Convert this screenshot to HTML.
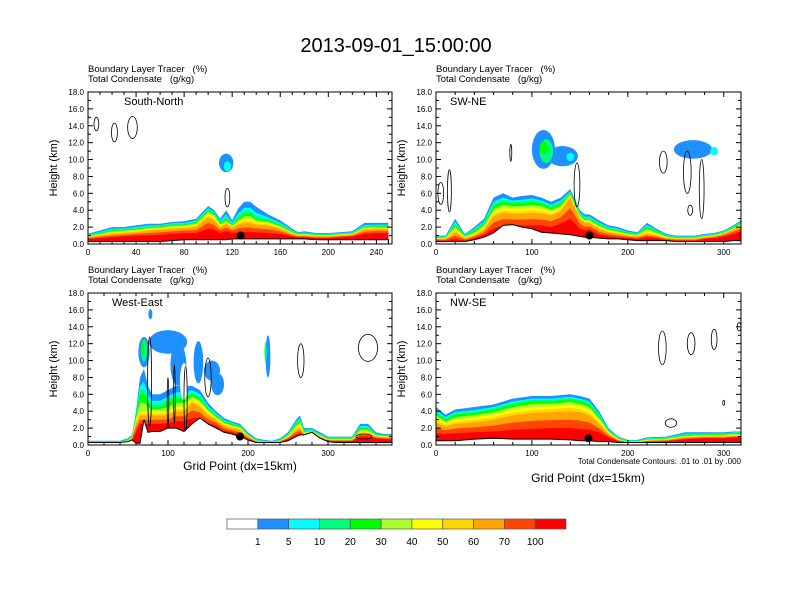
<!DOCTYPE html>
<html><head><meta charset="utf-8"><style>
html,body{margin:0;padding:0;background:#fff;}
svg{display:block;font-family:"Liberation Sans",sans-serif;}
</style></head><body>
<svg id="chart" width="792" height="612" viewBox="0 0 792 612" xmlns="http://www.w3.org/2000/svg">
<text x="396" y="52" text-anchor="middle" font-size="20">2013-09-01_15:00:00</text>
</svg>
<script>
// ---- data ----
const levelColors=["#ffffff","#1e90ff","#00ffff","#00ff7f","#00ff00","#adff2f","#ffff00","#ffd700","#ffa500","#ff4500","#ff0000"];
const levelLabels=["1","5","10","20","30","40","50","60","70","100"];
const yTicks=[0,2,4,6,8,10,12,14,16,18];

const snX=[0,10,20,30,40,50,60,70,80,90,100,105,110,115,120,125,130,135,140,150,160,170,175,180,190,200,210,220,230,240,250];
const snGround=[.3,.3,.3,.3,.3,.3,.3,.4,.5,.5,.5,.5,.5,.5,.6,.6,.6,.6,.6,.6,.6,.6,.6,.6,.5,.5,.5,.5,.5,.5,.5];
const snBlue=[1.2,1.6,2.0,2.0,2.2,2.4,2.4,2.6,2.7,3.0,4.5,4.0,3.0,4.0,2.8,4.2,5.0,5.0,4.4,3.5,2.8,1.8,1.4,1.5,1.3,1.3,1.4,1.5,2.5,2.5,2.5];
const snGreen=[1.0,1.3,1.6,1.7,1.8,2.0,2.1,2.3,2.3,2.6,4.0,3.6,2.5,3.0,2.3,3.0,3.6,3.6,3.0,2.8,2.2,1.5,1.2,1.3,1.1,1.1,1.2,1.3,2.0,2.1,2.1];
const snYellow=[.9,1.1,1.4,1.5,1.6,1.8,1.9,2.0,2.1,2.3,3.6,3.2,2.2,2.6,2.1,2.6,3.0,3.0,2.6,2.5,2.0,1.3,1.1,1.1,1.0,1.0,1.1,1.2,1.9,1.9,1.9];
const snOrange=[.8,1.0,1.2,1.3,1.4,1.6,1.7,1.8,1.9,2.0,3.2,2.8,2.0,2.4,1.9,2.3,2.5,2.5,2.3,2.2,1.8,1.2,1.0,1.0,.9,.9,1.0,1.1,1.7,1.8,1.8];
const snRed=[.6,.7,.8,.9,1.0,1.0,1.1,1.2,1.3,1.3,1.8,1.7,1.3,1.5,1.3,1.4,1.4,1.4,1.4,1.3,1.2,.9,.8,.8,.7,.7,.8,.9,1.2,1.3,1.3];
const snBlobs=[[115,9.6,6,1.1,1],[116,9.2,3,0.6,2]];
const snContours=[[7,14.2,2,0.8],[22,13.2,2.5,1.1],[37,13.8,4,1.3],[116,5.5,2,1.1]];

const swX=[0,10,20,30,40,50,60,70,80,90,100,110,120,130,140,150,155,160,170,180,190,200,210,220,230,240,250,260,270,280,290,300,310,318];
const swGround=[.3,.3,.3,.3,.5,.8,1.3,2.2,2.3,2.0,1.8,1.4,1.3,1.2,1.1,.9,.8,.8,.7,.6,.6,.5,.4,.4,.4,.4,.3,.3,.3,.3,.3,.3,.4,.4];
const swBlue=[1.0,1.0,3.0,1.2,2.0,3.0,5.5,6.0,5.5,5.7,5.8,5.5,5.0,5.5,6.5,4.0,3.5,3.5,2.8,2.2,2.0,1.6,1.4,2.5,1.8,1.2,1.0,1.0,1.0,1.2,1.3,1.6,2.2,2.8];
const swGreen=[.8,.8,2.3,1.0,1.6,2.4,4.5,5.0,4.8,4.8,5.0,4.8,4.3,4.8,6.0,3.5,3.0,3.0,2.3,1.8,1.6,1.3,1.2,2.0,1.5,1.0,.8,.8,.8,1.0,1.1,1.4,2.0,2.5];
const swYellow=[.7,.7,1.8,.8,1.2,2.0,3.8,4.3,4.2,4.2,4.3,4.2,3.8,4.3,5.8,3.2,2.7,2.7,2.0,1.6,1.4,1.1,1.0,1.6,1.2,.8,.7,.7,.7,.9,1.0,1.3,1.8,2.3];
const swOrange=[.6,.6,1.4,.7,1.0,1.7,3.3,3.7,3.6,3.6,3.7,3.6,3.4,3.9,5.5,3.0,2.5,2.5,1.8,1.4,1.2,1.0,.9,1.2,1.0,.7,.6,.6,.6,.8,.9,1.2,1.7,2.1];
const swRed=[.4,.4,.6,.4,.7,1.1,1.8,2.2,2.2,2.2,2.2,2.2,2.0,2.4,3.0,1.8,1.6,1.7,1.1,.9,.8,.7,.6,.8,.7,.5,.4,.4,.4,.6,.7,.9,1.2,1.5];
const swBlobs=[[112,11.2,12,2.3,1],[132,10.4,16,1.2,1],[115,11,7,1.4,3],[112,11.4,4,0.8,4],[140,10.3,4,0.5,2],[268,11.2,20,1.1,1],[290,11,4,0.5,2]];
const swContours=[[5,6,3,1.3],[14,6.3,2,2.5],[78,10.8,1,1],[147,7,3,2.6],[237,9.7,4,1.3],[262,8.5,4,2.5],[277,6.5,2.5,3.5],[265,4,2.5,0.6]];

const weX=[0,20,40,50,55,60,65,70,75,80,90,100,110,120,130,140,150,160,170,180,190,200,210,220,230,240,250,260,265,270,280,290,300,310,320,330,340,350,360,370,380];
const weGround=[.3,.3,.3,.4,.6,.2,.2,3.0,1.5,1.6,1.6,2.0,2.0,1.6,2.5,3.2,2.5,2.0,1.5,1.3,1.0,.6,.3,.3,.3,.3,.5,1.0,1.2,1.2,1.5,.8,.4,.3,.3,.3,.3,.3,.3,.3,.3];
const weBlue=[.5,.5,.5,.8,1.2,4,8,9,7,6,6,6.5,7,7,7,6.5,5,4,3.2,2.8,2.5,1.5,.8,.6,.5,.8,1.5,3,3.5,2,2,1.5,1,1,1,1,2.5,2.5,1.5,1.3,1.3];
const weGreen=[.4,.4,.4,.6,1.0,3.5,6,6,5,4.5,4.5,5,5.5,5.5,6,5.5,4.3,3.5,2.8,2.5,2.2,1.2,.6,.4,.4,.6,1.2,2.5,3,1.6,1.7,1.2,.8,.8,.8,.8,2,2,1.2,1.1,1.1];
const weYellow=[.35,.35,.35,.5,.9,3,4,4,4,4,4,4,4.5,4.5,5.5,5,4,3.2,2.5,2.2,2,1.1,.5,.35,.35,.5,1,2.1,2.5,1.4,1.6,1.1,.7,.7,.7,.7,1.6,1.6,1.1,1,1];
const weOrange=[.3,.3,.3,.45,.8,2.5,3.5,3.5,3.5,3.5,3.5,3.5,4,4,5,4.5,3.5,3,2.3,2,1.8,1,.45,.3,.3,.45,.9,1.8,2,1.3,1.5,1,.6,.6,.6,.6,1.4,1.4,1,.9,.9];
const weRed=[.3,.3,.3,.4,.6,1.5,2.5,2.5,2.5,2.5,2.5,2.6,2.8,2.8,3.2,3.2,2.6,2.3,1.7,1.5,1.2,.7,.35,.3,.3,.35,.7,1.2,1.4,1.1,1.2,.8,.45,.45,.45,.45,1,1,.8,.7,.7];
const weBlobs=[[70,11,7,1.8,1],[100,12.2,24,1.4,1],[113,9.5,10,2.5,1],[138,9.8,6,2.5,1],[155,8.8,10,1.2,1],[162,7.2,8,1.3,1],[225,10.5,3,2.5,1],[222,11,1.5,1.2,3],[70,11.2,4,1.3,3],[68,11.5,2,0.8,4],[78,15.5,2.5,0.6,1],[90,8.5,7,2.2,0],[120,7.5,5,2.2,0]];
const weContours=[[77,7.5,2.5,5.3],[100,5,1,3],[108,6,1,3.5],[122,5.5,2,3.8],[150,8,4,2.3],[266,10,4,2],[350,11.5,12,1.6],[345,1.0,10,0.3]];

const nwX=[0,10,20,40,60,80,100,120,140,150,160,170,180,190,200,210,220,240,260,280,290,300,310,318];
const nwGround=[.5,.5,.5,.7,.8,.7,.7,.7,.6,.5,.5,.4,.4,.3,.3,.3,.3,.3,.3,.3,.3,.3,.3,.3];
const nwBlue=[4.5,3.6,4.2,4.5,4.8,5.5,5.8,5.8,6.0,5.8,5.5,4.0,2.0,1.0,.6,.6,.9,1.0,1.5,1.5,1.5,1.5,1.6,1.6];
const nwGreen=[3.8,3.0,3.6,3.8,4.2,4.8,5.2,5.2,5.4,5.2,4.8,3.4,1.7,.8,.5,.5,.7,.8,1.2,1.2,1.3,1.3,1.4,1.4];
const nwYellow=[3.2,2.6,3.0,3.3,3.6,4.2,4.5,4.6,4.8,4.6,4.2,3.0,1.5,.7,.4,.4,.6,.7,1.0,1.1,1.1,1.1,1.2,1.2];
const nwOrange=[2.6,2.2,2.5,2.7,3.0,3.5,3.8,3.9,4.0,3.9,3.5,2.5,1.3,.6,.35,.35,.5,.6,.9,1.0,1.0,1.0,1.1,1.1];
const nwRed=[1.4,1.3,1.4,1.5,1.6,1.8,1.9,2.0,2.0,1.9,1.8,1.5,.9,.45,.3,.3,.4,.45,.7,.8,.8,.8,.9,.9];
const nwBlobs=[];
const nwContours=[[236,11.5,4,2],[266,12,4,1.3],[290,12.5,3,1.2],[316,14,2,0.5],[300,5,1,0.3],[245,2.6,6,0.5]];

const panels=[
 {name:"south-north",label:"South-North",x0:88,y0:92,w:304,h:152,xmax:253,xt:[0,40,80,120,160,200,240],xm:10,X:snX,G:snGround,L:[snBlue,snGreen,snYellow,snOrange,snRed],B:snBlobs,C:snContours,dot:[127,1.0]},
 {name:"sw-ne",label:"SW-NE",x0:436,y0:92,w:305,h:152,xmax:318,xt:[0,100,200,300],xm:20,X:swX,G:swGround,L:[swBlue,swGreen,swYellow,swOrange,swRed],B:swBlobs,C:swContours,dot:[160,1.0]},
 {name:"west-east",label:"West-East",x0:88,y0:293,w:304,h:152,xmax:380,xt:[0,100,200,300],xm:20,X:weX,G:weGround,L:[weBlue,weGreen,weYellow,weOrange,weRed],B:weBlobs,C:weContours,dot:[190,1.0]},
 {name:"nw-se",label:"NW-SE",x0:436,y0:293,w:305,h:152,xmax:318,xt:[0,100,200,300],xm:20,X:nwX,G:nwGround,L:[nwBlue,nwGreen,nwYellow,nwOrange,nwRed],B:nwBlobs,C:nwContours,dot:[159,0.8]}
];

const NS="http://www.w3.org/2000/svg";
const svg=document.getElementById("chart");
function mk(tag,attrs,parent){const e=document.createElementNS(NS,tag);for(const k in attrs)e.setAttribute(k,attrs[k]);(parent||svg).appendChild(e);return e;}

panels.forEach(p=>{
  const g=mk("g",{});
  
  
  const sx=v=>p.x0+v/p.xmax*p.w;
  const sy=v=>p.y0+p.h-v/18*p.h;
  const clipId="clip-"+p.name;
  const cp=mk("clipPath",{id:clipId},g);
  mk("rect",{x:p.x0,y:p.y0,width:p.w,height:p.h},cp);
  const inner=mk("g",{"clip-path":"url(#"+clipId+")"},g);
  const [b,gr,ye,or,re]=p.L;
  const mid=(a,c)=>a.map((v,i)=>(v+c[i])/2);
  const layers=[[b,1],[mid(b,gr),2],[mid(mid(b,gr),gr),3],[gr,4],[mid(gr,ye),5],[ye,6],[mid(ye,or),7],[or,8],[mid(or,re),9],[re,10]];
  layers.forEach(([arr,ci])=>{
    let d="M"+sx(p.X[0])+","+sy(0);
    arr.forEach((v,i)=>{d+=" L"+sx(p.X[i]).toFixed(1)+","+sy(v).toFixed(1);});
    d+=" L"+sx(p.X[p.X.length-1])+","+sy(0)+" Z";
    const e=mk("path",{d:d,fill:levelColors[ci],stroke:"none"},inner);
    
    
  });
  p.B.forEach(bl=>{
    const e=mk("ellipse",{cx:sx(bl[0]),cy:sy(bl[1]),rx:bl[2]/p.xmax*p.w,ry:bl[3]/18*p.h,fill:levelColors[bl[4]]},inner);
    
    
  });
  let td="M"+sx(p.X[0])+","+sy(0);
  p.G.forEach((v,i)=>{td+=" L"+sx(p.X[i]).toFixed(1)+","+sy(v).toFixed(1);});
  td+=" L"+sx(p.X[p.X.length-1])+","+sy(0)+" Z";
  const t=mk("path",{d:td,fill:"#fff",stroke:"#000","stroke-width":1},inner);
  
  
  p.C.forEach(c=>{
    const e=mk("ellipse",{cx:sx(c[0]),cy:sy(c[1]),rx:c[2]/p.xmax*p.w,ry:c[3]/18*p.h,fill:"none",stroke:"#000","stroke-width":0.8},inner);
    
    
  });
  const dt=mk("circle",{cx:sx(p.dot[0]),cy:sy(p.dot[1]),r:4,fill:"#000"},g);
  
  
  const fr=mk("rect",{x:p.x0,y:p.y0,width:p.w,height:p.h,fill:"none",stroke:"#000","stroke-width":1},g);
  
  
  yTicks.forEach(v=>{
    const y=sy(v);
    mk("line",{x1:p.x0,x2:p.x0+5,y1:y,y2:y,stroke:"#000"},g);
    mk("line",{x1:p.x0+p.w,x2:p.x0+p.w-5,y1:y,y2:y,stroke:"#000"},g);
    if(v<18){mk("line",{x1:p.x0,x2:p.x0+3,y1:sy(v+1),y2:sy(v+1),stroke:"#000"},g);mk("line",{x1:p.x0+p.w,x2:p.x0+p.w-3,y1:sy(v+1),y2:sy(v+1),stroke:"#000"},g);}
    const tl=mk("text",{x:p.x0-4,y:y+3,"text-anchor":"end","font-size":8},g);
    tl.textContent=v.toFixed(1);
    
    
  });
  for(let v=0;v<=p.xmax;v+=p.xm){
    const x=sx(v);const major=p.xt.includes(v);const L=major?5:3;
    mk("line",{x1:x,x2:x,y1:p.y0+p.h,y2:p.y0+p.h-L,stroke:"#000"},g);
    mk("line",{x1:x,x2:x,y1:p.y0,y2:p.y0+L,stroke:"#000"},g);
  }
  p.xt.forEach(v=>{
    const tl=mk("text",{x:sx(v),y:p.y0+p.h+11,"text-anchor":"middle","font-size":8},g);
    tl.textContent=v;
    
    
  });
  const lab=mk("text",{x:p.x0+(p.name=="south-north"?36:(p.name=="west-east"?24:14)),y:p.y0+13,"font-size":11},g);
  lab.textContent=p.label;
  
  
  const h1=mk("text",{x:p.x0,y:p.y0-20,"font-size":9.5},g);
  h1.textContent="Boundary Layer Tracer\u00a0\u00a0\u00a0(%)";
  
  
  const h2=mk("text",{x:p.x0,y:p.y0-10,"font-size":9.5},g);
  h2.textContent="Total Condensate\u00a0\u00a0\u00a0(g/kg)";
  
  
  const yt=mk("text",{x:0,y:0,"font-size":11,"text-anchor":"middle",transform:"translate("+(p.x0-31)+","+(p.y0+p.h/2)+") rotate(-90)"},g);
  yt.textContent="Height (km)";
  
  
});
const xt1=mk("text",{x:240,y:470,"text-anchor":"middle","font-size":12});
xt1.textContent="Grid Point (dx=15km)";


const xt2=mk("text",{x:588,y:482,"text-anchor":"middle","font-size":12});
xt2.textContent="Grid Point (dx=15km)";


const ci=mk("text",{x:741,y:464,"text-anchor":"end","font-size":8});
ci.textContent="Total Condensate Contours: .01 to .01 by .000";


const cbx=227,cbw=339/levelColors.length;
levelColors.forEach((c,i)=>{
  const r=mk("rect",{x:cbx+i*cbw,y:519,width:cbw,height:10,fill:c,stroke:"#555","stroke-width":0.7});
  
  
});
levelLabels.forEach((l,i)=>{
  const t=mk("text",{x:cbx+(i+1)*cbw,y:545,"text-anchor":"middle","font-size":10});
  t.textContent=l;
  
  
});
</script>
</body></html>
